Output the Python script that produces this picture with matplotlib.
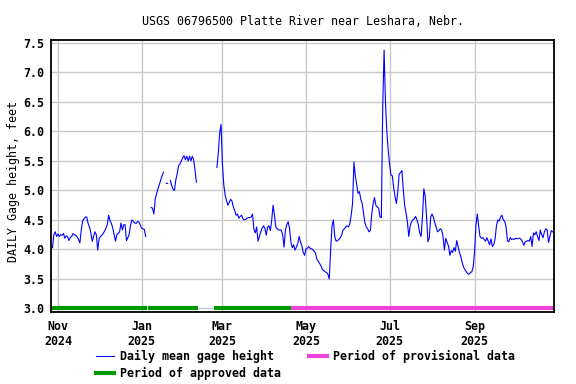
'''USGS daily mean gage height, Platte River near Leshara'''
import numpy as np
import pandas as pd
import matplotlib
matplotlib.use('Agg')
import matplotlib.pyplot as plt
from matplotlib.lines import Line2D
from matplotlib import rcParams

rcParams.update({'font.family': 'DejaVu Sans Mono', 'font.weight': 'bold', 'font.size': 8.4})

# daily mean gage height (feet)
# Oct 28 2024 - Jan 4 2025
seg1 = [4.03, 4.25, 4.30, 4.22, 4.26, 4.22, 4.25, 4.24, 4.27, 4.19,
        4.23, 4.22, 4.15, 4.20, 4.22, 4.27, 4.25, 4.24, 4.21, 4.17,
        4.11, 4.33, 4.48, 4.52, 4.55, 4.55, 4.44, 4.38, 4.28, 4.14,
        4.22, 4.30, 4.25, 3.99, 4.18, 4.22, 4.24, 4.27, 4.31, 4.36,
        4.42, 4.58, 4.49, 4.44, 4.36, 4.25, 4.14, 4.26, 4.27, 4.30,
        4.45, 4.33, 4.42, 4.42, 4.15, 4.20, 4.26, 4.42, 4.50, 4.48,
        4.45, 4.44, 4.47, 4.47, 4.42, 4.36, 4.35, 4.34, 4.22]
# Jan 8 - Feb 10 2025 (ice affected, with gaps)
seg2 = [4.71, 4.70, 4.60, 4.86, 4.95, 5.03, 5.10, 5.18, 5.25, 5.31,
        np.nan, 5.12, 5.12, np.nan, 5.17, 5.08, 5.02, 5.00, 5.18, 5.28,
        5.42, 5.45, 5.50, 5.55, 5.59, 5.52, 5.58, 5.50, 5.58, 5.50,
        5.58, 5.52, 5.35, 5.14]
# Feb 25 - May 31 2025
seg3 = [5.39, 5.63, 5.97, 6.12, 5.45, 5.10, 4.92, 4.83, 4.75, 4.80,
        4.85, 4.82, 4.72, 4.66, 4.58, 4.60, 4.53, 4.56, 4.58, 4.52,
        4.50, 4.51, 4.53, 4.54, 4.54, 4.55, 4.60, 4.34, 4.28, 4.38,
        4.14, 4.22, 4.30, 4.36, 4.40, 4.36, 4.24, 4.38, 4.40, 4.32,
        4.50, 4.75, 4.58, 4.38, 4.35, 4.33, 4.33, 4.33, 4.24, 4.04,
        4.33, 4.42, 4.47, 4.36, 4.12, 4.03, 4.08, 3.99, 4.04, 4.10,
        4.22, 4.13, 4.06, 3.95, 3.90, 4.01, 4.02, 4.05, 4.02, 4.01,
        4.00, 3.97, 3.93, 3.83, 3.80, 3.76, 3.72, 3.66, 3.64, 3.62,
        3.61, 3.58, 3.50, 4.00, 4.40, 4.50, 4.22, 4.14, 4.15, 4.17,
        4.20, 4.24, 4.33, 4.35, 4.38, 4.40, 4.38]
# Jun 1 - Oct 28 2025
seg4 = [4.44, 4.58, 4.78, 5.48, 5.25, 5.10, 4.95, 4.98, 4.85, 4.78,
        4.62, 4.45, 4.38, 4.35, 4.30, 4.32, 4.60, 4.78, 4.88, 4.75,
        4.72, 4.70, 4.55, 4.54, 6.40, 7.38, 6.50, 6.00, 5.68, 5.45,
        5.26, 5.25, 5.05, 4.89, 4.78, 4.98, 5.28, 5.30, 5.34, 5.02,
        4.75, 4.62, 4.47, 4.22, 4.40, 4.47, 4.50, 4.52, 4.56, 4.50,
        4.42, 4.28, 4.22, 4.55, 5.03, 4.90, 4.55, 4.13, 4.20, 4.55,
        4.60, 4.55, 4.45, 4.38, 4.30, 4.32, 4.35, 4.33, 4.22, 3.99,
        4.19, 4.12, 4.06, 3.90, 3.98, 3.95, 4.03, 3.97, 4.15, 4.05,
        3.95, 3.88, 3.78, 3.70, 3.66, 3.62, 3.59, 3.58, 3.61, 3.62,
        3.70, 3.95, 4.40, 4.60, 4.40, 4.22, 4.19, 4.20, 4.17, 4.14,
        4.20, 4.14, 4.08, 4.18, 4.05, 4.08, 4.18, 4.40, 4.50, 4.48,
        4.55, 4.58, 4.50, 4.48, 4.38, 4.15, 4.13, 4.20, 4.17, 4.18,
        4.17, 4.19, 4.18, 4.19, 4.19, 4.17, 4.13, 4.07, 4.13, 4.14,
        4.15, 4.14, 4.22, 4.05, 4.28, 4.25, 4.30, 4.22, 4.15, 4.33,
        4.25, 4.20, 4.30, 4.35, 4.33, 4.12, 4.22, 4.32, 4.30]

gap1 = [np.nan] * 3    # Jan 5 - Jan 7
gap2 = [np.nan] * 14   # Feb 11 - Feb 24
gage = seg1 + gap1 + seg2 + gap2 + seg3 + seg4
dates = pd.date_range('2024-10-28', periods=len(gage), freq='D')

# data approval periods
approved = [('2024-10-26', '2025-01-05'), ('2025-01-06', '2025-02-11'),
            ('2025-02-23', '2025-04-20')]
provisional = [('2025-04-20', '2025-10-30')]

months = ['2024-11-01', '2025-01-01', '2025-03-01', '2025-05-01', '2025-07-01', '2025-09-01']
month_labels = ['Nov\n2024', 'Jan\n2025', 'Mar\n2025', 'May\n2025', 'Jul\n2025', 'Sep\n2025']
yticks = np.arange(3.0, 7.51, 0.5)

c_line = '#0000ff'
c_appr = '#009900'
c_prov = '#ee44dd'

fig = plt.figure(figsize=(5.76, 3.84), dpi=100)
ax = fig.add_axes([51/576, 1 - 312/384, 503/576, 272/384])

ax.plot(dates, gage, color=c_line, lw=0.8)

for s, e in approved:
    ax.plot(pd.to_datetime([s, e]), [3.0, 3.0], color=c_appr, lw=3, solid_capstyle='butt')
for s, e in provisional:
    ax.plot(pd.to_datetime([s, e]), [3.0, 3.0], color=c_prov, lw=3, solid_capstyle='butt')

ax.set_xlim(pd.Timestamp('2024-10-26 22:00'), pd.Timestamp('2025-10-29'))
ax.set_ylim(2.94, 7.55)
ax.set_xticks(pd.to_datetime(months))
ax.set_xticklabels(month_labels, linespacing=1.2)
ax.set_yticks(yticks)
ax.set_yticklabels(['%.1f' % v for v in yticks])
ax.tick_params(length=0, pad=5)
ax.tick_params(axis='x', pad=6)
ax.grid(True, color='#c8c8c8', lw=1)
ax.set_axisbelow(True)
for sp in ax.spines.values():
    sp.set_linewidth(1.3)

ax.set_title('USGS 06796500 Platte River near Leshara, Nebr.', fontsize=8.4, pad=11)
ax.set_ylabel('DAILY Gage height, feet')
ax.yaxis.set_label_coords(-0.062, 0.48)

handles = [Line2D([], [], color=c_line, lw=0.8),
           Line2D([], [], color=c_appr, lw=3),
           Line2D([], [], color=c_prov, lw=3)]
labels = ['Daily mean gage height', 'Period of approved data', 'Period of provisional data']
fig.legend(handles, labels, loc='upper left', bbox_to_anchor=(90/576, 1 - 344/384),
           ncol=2, frameon=False, handlelength=1.55, handletextpad=0.5,
           columnspacing=2.45, labelspacing=0.38, borderpad=0)

plt.savefig('out.png', dpi=100)
